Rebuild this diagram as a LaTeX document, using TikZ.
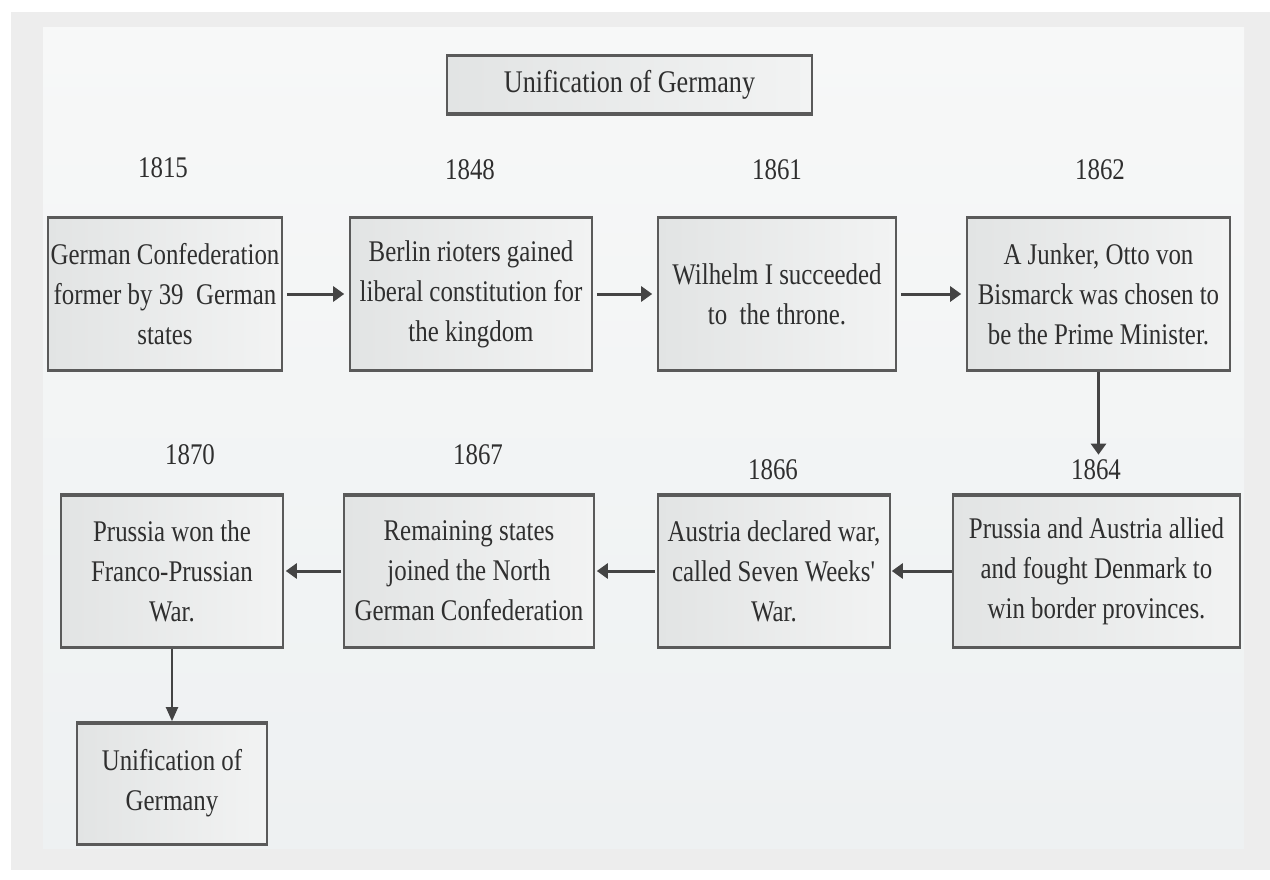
\documentclass[tikz,border=0pt]{standalone}
\usepackage{fontspec}
\setmainfont{Liberation Serif}[FakeStretch=0.83]
\usetikzlibrary{arrows.meta}

\definecolor{pagewhite}{HTML}{FFFFFF}
\definecolor{outerbg}{HTML}{EDEDED}
\definecolor{panelbg}{HTML}{F7F8F8}
\definecolor{panelbot}{HTML}{EEF1F2}
\definecolor{boxedge}{HTML}{5A5A5A}
\definecolor{boxfillA}{HTML}{E2E4E4}
\definecolor{boxfillB}{HTML}{F2F3F3}
\definecolor{ink}{HTML}{2F2F2F}
\definecolor{arrowink}{HTML}{444444}

\tikzset{
  event/.style={
    draw=boxedge, line width=1.6pt,
    left color=boxfillA, right color=boxfillB,
    text=ink, align=center, inner sep=0pt,
    font=\fontsize{30}{40}\selectfont,
    path picture={
      \draw[boxedge, line width=5pt]
        (path picture bounding box.north west) -- (path picture bounding box.north east)
        (path picture bounding box.south west) -- (path picture bounding box.south east);
    }
  },
  year/.style={text=ink, inner sep=2pt, font=\fontsize{30}{36}\selectfont},
  flow/.style={draw=arrowink, line width=3pt,
    -{Triangle[length=11pt,width=15pt]}},
  thinflow/.style={draw=arrowink, line width=2pt,
    -{Triangle[length=14pt,width=12pt]}}
}

\begin{document}
\begin{tikzpicture}[x=1pt,y=-1pt]
  % page, outer frame and inner panel
  \fill[pagewhite] (0,0) rectangle (1270,880);
  \useasboundingbox (0,0) rectangle (1270,880);
  \fill[outerbg] (11,12) rectangle (1270,870);
  \shade[top color=panelbg, bottom color=panelbot] (43,28) rectangle (1244,848);

  % heading
  \node[event, minimum width=365pt, minimum height=60pt,
        font=\fontsize{31.5}{40}\selectfont] (title) at (629.5,85)
        {Unification of Germany};

  % first row of events
  \node[event, minimum width=234pt, minimum height=155pt] (b1815) at (165,294)
    {German Confederation\\former by 39\ \ German\\states};
  \node[event, minimum width=242pt, minimum height=155pt] (b1848) at (471,294)
    {Berlin rioters gained\\liberal constitution for\\the kingdom};
  \node[event, minimum width=238pt, minimum height=155pt] (b1861) at (777,294)
    {Wilhelm I succeeded\\to\ \ the throne.};
  \node[event, minimum width=263pt, minimum height=155pt] (b1862) at (1098.5,294)
    {A Junker, Otto von\\Bismarck was chosen to\\be the Prime Minister.};

  % second row of events
  \node[event, minimum width=222pt, minimum height=154pt] (b1870) at (172,571)
    {Prussia won the\\Franco-Prussian\\War.};
  \node[event, minimum width=250pt, minimum height=154pt] (b1867) at (469,571)
    {Remaining states\\joined the North\\German Confederation};
  \node[event, minimum width=232pt, minimum height=154pt] (b1866) at (774,571)
    {Austria declared war,\\called Seven Weeks\textquotesingle\\War.};
  \node[event, minimum width=287pt, minimum height=154pt] (b1864) at (1096.5,571)
    {Prussia and Austria allied\\and fought Denmark to\\win border provinces.};

  % outcome
  \node[event, minimum width=190pt, minimum height=123pt] (bend) at (172,783.5)
    {Unification of\\Germany};

  % years
  \node[year] (y1815) at (163,168) {1815};
  \node[year] (y1848) at (470,170) {1848};
  \node[year] (y1861) at (777,170) {1861};
  \node[year] (y1862) at (1100,170) {1862};
  \node[year] (y1870) at (190,455) {1870};
  \node[year] (y1867) at (478,455) {1867};
  \node[year] (y1866) at (773,470) {1866};
  \node[year] (y1864) at (1096,470) {1864};

  % connectors
  \draw[flow, shorten <=4pt, shorten >=5pt] (b1815) -- (b1848);
  \draw[flow, shorten <=4pt, shorten >=5pt] (b1848) -- (b1861);
  \draw[flow, shorten <=4pt, shorten >=5pt] (b1861) -- (b1862);
  \draw[flow, shorten >=3pt] (b1862.south) -- (b1862.south |- y1864.north);
  \draw[flow, shorten >=1pt] (b1864) -- (b1866);
  \draw[flow, shorten <=2pt, shorten >=2pt] (b1866) -- (b1867);
  \draw[flow, shorten <=2pt, shorten >=2pt] (b1867) -- (b1870);
  \draw[thinflow] (b1870) -- (bend);
\end{tikzpicture}
\end{document}
